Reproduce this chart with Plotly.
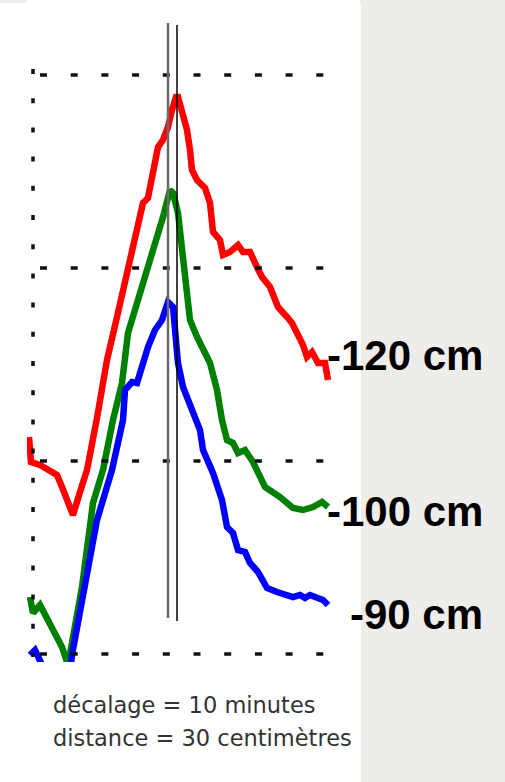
import plotly.graph_objects as go

# --- data (time index, level units; grid lines every 193 level units) ---
red_x = [-4, -2, 7, 17, 24, 29, 34, 40, 47, 54, 64, 74, 84, 92, 97, 104, 110, 115, 120, 125, 130, 135,
         139, 143, 145, 150, 154, 157, 159, 164, 172, 177, 180, 187, 190, 197, 205, 210, 217, 224, 229,
         237, 245, 254, 259, 264, 270, 274, 279, 285, 292, 295]
red_y = [217, 192, 189, 184, 179, 167, 154, 139, 162, 184, 236, 294, 337, 371, 392, 424, 451, 456, 479,
         507, 514, 527, 544, 557, 557, 541, 524, 504, 484, 474, 466, 451, 422, 414, 399, 402, 409, 402,
         402, 387, 377, 367, 347, 337, 331, 321, 309, 297, 302, 291, 291, 274]

green_x = [-3, 0, 7, 17, 29, 35, 40, 49, 60, 70, 80, 89, 95, 110, 117, 124, 130, 137, 140, 145, 151,
           157, 164, 177, 184, 189, 194, 200, 205, 212, 220, 232, 247, 260, 270, 280, 289, 295]
green_y = [57, 41, 49, 31, 7, -11, 14, 67, 151, 184, 234, 271, 321, 371, 394, 414, 437, 464, 461, 441,
           389, 334, 317, 291, 264, 234, 214, 211, 201, 204, 192, 167, 157, 146, 144, 147, 152, 147]

blue_x = [-3, 2, 9, 22, 35, 39, 64, 79, 90, 92, 99, 104, 115, 122, 129, 135, 140, 145, 150, 160, 167,
          170, 180, 189, 194, 200, 205, 212, 217, 225, 230, 234, 244, 254, 260, 267, 272, 277, 284, 290, 295]
blue_y = [-1, 4, -11, -36, -36, -1, 134, 184, 234, 264, 272, 271, 307, 324, 334, 352, 347, 291, 267,
          241, 224, 204, 181, 154, 127, 121, 104, 102, 91, 82, 71, 66, 62, 59, 57, 59, 56, 59, 57, 54, 49]

grid_levels = [0, 193, 386, 579]
series_labels = ["-120 cm", "-100 cm", "-90 cm"]
caption_lines = ["décalage = 10 minutes", "distance = 30 centimètres"]

W, H = 505, 782
L, R, T, B = 27, 145, 0, 120
PW, PH = W - L - R, H - T - B


def px_to_paper_x(px):
    return (px - L) / PW


def py_to_paper_y(py):
    return (H - B - py) / PH


fig = go.Figure()
for xs, ys, col in [(red_x, red_y, "#ff0000"), (green_x, green_y, "#008000"), (blue_x, blue_y, "#0000ff")]:
    fig.add_trace(go.Scatter(x=xs, y=ys, mode="lines",
                             line=dict(color=col, width=6.5, shape="linear"),
                             hoverinfo="skip", showlegend=False))

shapes = []
# white panel behind chart
shapes.append(dict(type="rect", xref="paper", yref="paper",
                   x0=px_to_paper_x(0), x1=px_to_paper_x(361),
                   y0=py_to_paper_y(782), y1=py_to_paper_y(3),
                   fillcolor="white", line=dict(width=0), layer="below"))
# dotted horizontal grid
for lv in grid_levels:
    shapes.append(dict(type="line", xref="x", yref="y", x0=7, x1=292, y0=lv, y1=lv,
                       line=dict(color="#111111", width=3.5, dash="7px,23.7px"), layer="above"))
# dotted vertical axis
shapes.append(dict(type="line", xref="x", yref="y", x0=0, x1=0, y0=585, y1=-3,
                   line=dict(color="#111111", width=3.5, dash="5px,24.2px"), layer="above"))
# two reference vertical lines (offset)
shapes.append(dict(type="line", xref="x", yref="y", x0=135, x1=135, y0=631, y1=36,
                   line=dict(color="#6a6a6a", width=2.5), layer="above"))
shapes.append(dict(type="line", xref="x", yref="y", x0=144, x1=144, y0=629, y1=33,
                   line=dict(color="#000000", width=1.5), layer="above"))

annotations = []
label_pos = [(292, 299), (292, 143), (315, 40)]
for txt, (ax, ay) in zip(series_labels, label_pos):
    annotations.append(dict(x=ax, y=ay, xref="x", yref="y", text=txt, showarrow=False,
                            xanchor="left", yanchor="middle",
                            font=dict(family="Liberation Sans, Arial", size=42, color="black", weight="bold")))
for i, (txt, py) in enumerate(zip(caption_lines, [705, 738])):
    annotations.append(dict(x=px_to_paper_x(51), y=py_to_paper_y(py), xref="paper", yref="paper",
                            text=txt, showarrow=False, xanchor="left", yanchor="middle",
                            font=dict(family="DejaVu Sans", size=22.5, color="#333333")))

fig.update_layout(
    width=W, height=H, autosize=False,
    margin=dict(l=L, r=R, t=T, b=B, pad=0),
    paper_bgcolor="#efede9", plot_bgcolor="white",
    shapes=shapes, annotations=annotations,
    xaxis=dict(range=[-6, 327], visible=False, fixedrange=True),
    yaxis=dict(range=[-8, 654], visible=False, fixedrange=True),
    showlegend=False,
)

fig.write_html("out.html", config={"displayModeBar": False},
               post_script="document.body.style.margin='0px';document.body.style.overflow='hidden';")
